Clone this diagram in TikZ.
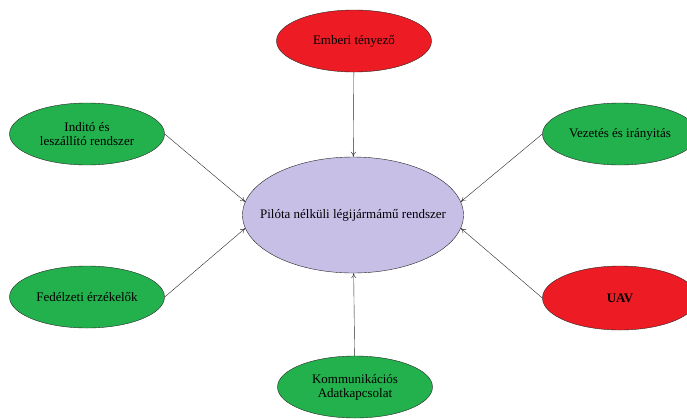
\documentclass[tikz,border=0pt]{standalone}
\usepackage{fontspec}
\setmainfont{Liberation Serif}
\usetikzlibrary{shapes.geometric,arrows.meta}
\definecolor{piros}{HTML}{ED1C24}
\definecolor{zold}{HTML}{22B14C}
\definecolor{lila}{HTML}{C8BFE7}
\tikzset{
    elem/.style={ellipse, draw=black!85, thin, inner sep=0pt, align=center,
        font=\fontsize{13}{14}\selectfont, minimum width=155pt, minimum height=62pt},
    nyil/.style={-{To[length=5pt,width=5pt]}, black!85, thin}
}
\begin{document}
\begin{tikzpicture}[x=1pt,y=-1pt]
        \useasboundingbox (0,0) rectangle (687,418);
        % Central node.
            \node[elem, fill=lila, minimum width=221pt, minimum height=116pt] (kozep) at (353,215) {\makebox[0pt]{Pilóta nélküli légijármámű rendszer}};
        % Surrounding nodes.
            \node[elem, fill=piros] (ember) at (354,41) {Emberi tényező};
            \node[elem, fill=zold] (indito) at (87,134) {Inditó és\\leszállító rendszer};
            \node[elem, fill=zold] (vezetes) at (620,134) {Vezetés és irányitás};
            \node[elem, fill=zold] (fedelzet) at (87,297) {Fedélzeti érzékelők};
            \node[elem, fill=piros, minimum height=64pt] (uav) at (620,298) {\textbf{UAV}};
            \node[elem, fill=zold] (komm) at (355,387) {Kommunikációs\\Adatkapcsolat};
        % Arrows towards the centre.
            \draw[nyil] (ember) -- (kozep);
            \draw[nyil] (indito.east) -- (kozep.173);
            \draw[nyil] (vezetes.west) -- (kozep.7);
            \draw[nyil] (fedelzet.east) -- (kozep.187);
            \draw[nyil] (uav.west) -- (kozep.353);
            \draw[nyil] (komm) -- (kozep);
\end{tikzpicture}
\end{document}
